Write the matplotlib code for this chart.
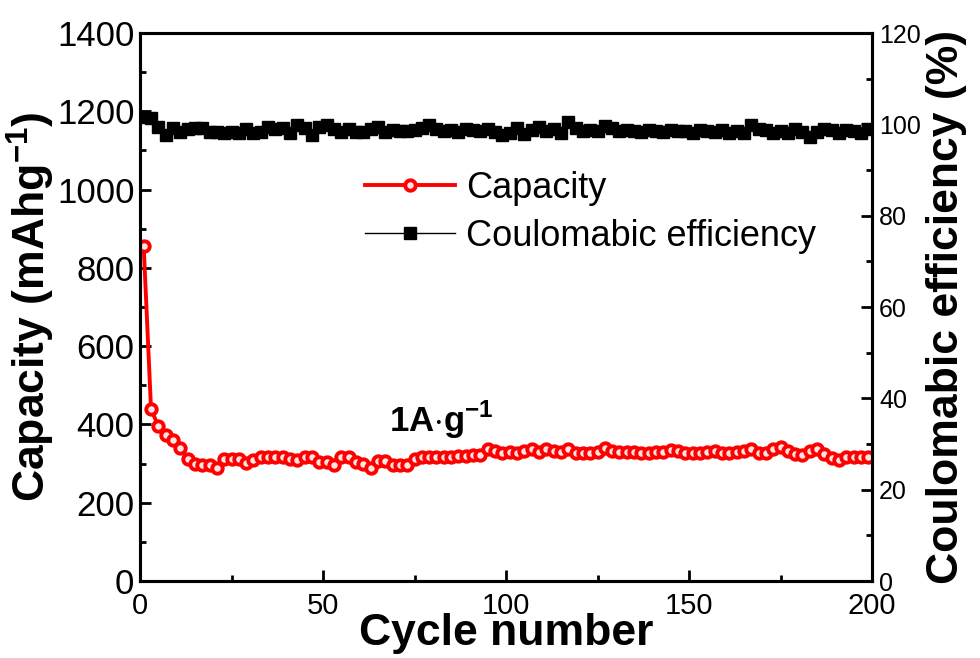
import matplotlib
matplotlib.use("Agg")
import matplotlib.pyplot as plt
from matplotlib.ticker import MultipleLocator
from matplotlib.lines import Line2D

plt.rcParams['font.family'] = ['Liberation Sans', 'DejaVu Sans']
plt.rcParams['mathtext.fontset'] = 'custom'
plt.rcParams['mathtext.rm'] = 'Liberation Sans'
plt.rcParams['mathtext.bf'] = 'Liberation Sans:bold'

# cycles 1,3,5,...,199
cycles = list(range(1, 200, 2))

capacity = [855, 440, 395, 373, 360, 340, 313, 300, 296, 296,
            290, 311, 313, 313, 302, 309, 318, 318, 318, 318,
            311, 309, 316, 318, 305, 305, 296, 318, 318, 305,
            299, 290, 307, 307, 296, 296, 296, 312, 318, 318,
            316, 316, 318, 320, 320, 322, 322, 336, 332, 328,
            330, 326, 332, 336, 330, 338, 332, 330, 338, 326,
            326, 328, 330, 340, 332, 330, 330, 330, 328, 328,
            330, 330, 335, 332, 328, 328, 328, 330, 333, 326,
            326, 330, 333, 338, 328, 326, 336, 342, 332, 325,
            322, 332, 336, 325, 315, 310, 318, 318, 318, 318]

efficiency = [101.7, 101.3, 99.5, 97.7, 99.1, 98.4, 99.0, 99.1, 99.1, 98.4,
              98.4, 98.0, 98.4, 98.0, 99.0, 98.0, 98.4, 99.5, 99.0, 99.1,
              98.0, 99.8, 99.1, 97.7, 99.5, 99.8, 99.0, 98.4, 99.0, 98.4,
              98.4, 99.0, 99.5, 98.4, 98.8, 98.6, 98.6, 98.8, 99.2, 99.8,
              99.0, 98.6, 98.8, 98.4, 99.0, 98.8, 98.6, 99.0, 98.4, 97.6,
              98.0, 99.2, 97.8, 98.8, 99.4, 98.6, 99.0, 98.0, 100.6, 99.2,
              98.6, 98.8, 98.6, 99.6, 99.2, 98.6, 98.8, 98.6, 98.4, 98.8,
              98.6, 98.4, 98.8, 98.6, 98.6, 98.2, 98.8, 98.6, 98.4, 98.8,
              98.2, 98.6, 98.0, 99.8, 99.0, 98.8, 98.2, 98.6, 98.0, 99.0,
              98.4, 97.2, 98.4, 99.0, 98.8, 98.2, 98.8, 98.6, 98.2, 99.0]

fig = plt.figure(figsize=(9.8, 6.58), dpi=100)
ax1 = fig.add_axes([0.1429, 0.1170, 0.7469, 0.8328])
ax2 = ax1.twinx()

ax1.plot(cycles, capacity, color='red', lw=2.8, marker='o', ms=7.5,
         mfc='#ffe4e4', mec='red', mew=2.8)
ax2.plot(cycles, efficiency, color='black', lw=1, marker='s', ms=8,
         mfc='black', mec='black')

ax1.set_xlim(0, 200)
ax1.set_ylim(0, 1400)
ax2.set_ylim(0, 120)

ax1.xaxis.set_major_locator(MultipleLocator(50))
ax1.xaxis.set_minor_locator(MultipleLocator(25))
ax1.yaxis.set_major_locator(MultipleLocator(200))
ax1.yaxis.set_minor_locator(MultipleLocator(100))
ax2.yaxis.set_major_locator(MultipleLocator(20))
ax2.yaxis.set_minor_locator(MultipleLocator(10))

for ax in (ax1, ax2):
    for s in ax.spines.values():
        s.set_linewidth(2.2)
ax1.tick_params(which='both', direction='in', width=2, top=False, right=False)
ax1.tick_params(which='major', length=8)
ax1.tick_params(which='minor', length=4)
ax1.tick_params(axis='y', labelsize=25, pad=4)
ax1.tick_params(axis='x', labelsize=21, pad=8)
ax2.tick_params(which='both', direction='in', width=2)
ax2.tick_params(which='major', length=8, labelsize=18, pad=5)
ax2.tick_params(which='minor', length=4)

ax1.set_xlabel('Cycle number', fontsize=32, fontweight='bold', labelpad=-5)
ax1.set_ylabel(r'Capacity (mAhg$^{\mathbf{-1}}$)', fontsize=32, fontweight='bold', labelpad=0)
ax2.set_ylabel('Coulomabic efficiency (%)', fontsize=32, fontweight='bold', labelpad=4)

ax1.text(68, 380, r'1A$\cdot$g$^{\mathbf{-1}}$', fontsize=25, fontweight='bold')

handles = [Line2D([], [], color='red', lw=2.8, marker='o', ms=7.5, mfc='#ffe4e4', mec='red', mew=2.8),
           Line2D([], [], color='black', lw=1, marker='s', ms=8)]
fig.legend(handles, ['Capacity', 'Coulomabic efficiency'], loc='upper left',
           bbox_to_anchor=(0.372, 0.740), frameon=False, fontsize=26,
           handlelength=2.5, handletextpad=0.3, labelspacing=0.35,
           borderpad=0, borderaxespad=0)

fig.savefig('out.png', dpi=100)
